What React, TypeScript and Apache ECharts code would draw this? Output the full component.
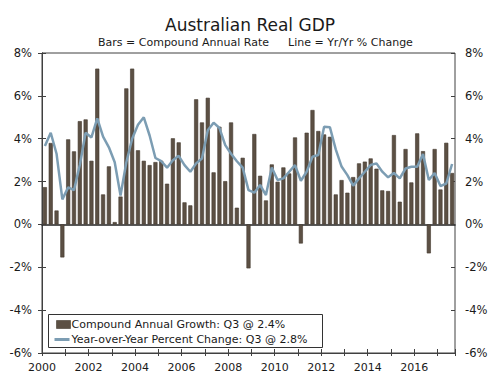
import React, { useEffect, useRef } from 'react';
import * as echarts from 'echarts';

const firstYear = 2000;
const quarterCount = 71;
const quarters: string[] = [];
for (let i = 0; i < quarterCount; i++) {
  quarters.push(`${firstYear + Math.floor(i / 4)} Q${(i % 4) + 1}`);
}

const compoundAnnual: number[] = [
  1.74, 3.8, 0.65, -1.54, 3.97, 3.41, 4.82, 4.9, 2.97, 7.27, 1.4, 2.71,
  0.11, 1.3, 6.35, 7.27, 3.46, 2.97, 2.77, 2.91, 2.97, 1.9, 4.02, 3.83,
  1.03, 0.89, 5.84, 4.76, 5.91, 2.43, 4.56, 2.02, 4.76, 0.78, 3.11, -2.05,
  4.22, 2.27, 1.12, 2.8, 1.99, 2.66, 2.38, 4.06, -0.89, 4.28, 5.34, 4.36,
  4.2, 4.09, 1.4, 2.07, 1.48, 2.21, 2.85, 2.93, 3.08, 2.6, 1.59, 1.56,
  4.17, 1.06, 3.52, 1.96, 4.25, 3.42, -1.35, 3.52, 1.63, 3.81, 2.4,
];

const yearOverYear: number[] = [
  3.66, 4.28, 3.3, 1.17, 1.73, 1.6, 2.77, 4.28, 4.06, 4.95, 4.1, 3.6,
  2.9, 1.35, 2.9, 4.0, 4.65, 5.0, 4.15, 3.1, 2.95, 2.65, 3.0, 3.2,
  2.77, 2.46, 2.85, 3.08, 4.4, 4.75, 4.5, 3.7, 3.3, 2.95, 2.65, 1.6,
  1.48, 1.84, 1.37, 2.66, 2.07, 2.15, 2.46, 2.77, 2.04, 2.46, 3.16, 3.24,
  4.56, 4.53, 3.5, 2.7, 2.3, 1.81, 2.15, 2.46, 2.77, 2.85, 2.46, 2.2,
  2.4, 2.15, 2.61, 2.69, 2.69, 3.28, 2.07, 2.4, 1.79, 1.91, 2.82,
];

const yearLabels: string[] = ['2000', '2002', '2004', '2006', '2008', '2010', '2012', '2014', '2016'];

const barName = 'Compound Annual Growth: Q3 @ 2.4%';
const lineName = 'Year-over-Year Percent Change: Q3 @ 2.8%';

const FONT = 'DejaVu Sans, Verdana, sans-serif';
const AXIS = '#404040';
const TEXT = '#1a1a1a';
const BAR = '#5c5044';
const LINE = '#7c9db3';

export default function App() {
  const ref = useRef<HTMLDivElement>(null);
  useEffect(() => {
    if (!ref.current) return;
    const chart = echarts.init(ref.current, undefined, { renderer: 'svg' });
    const yBase = { type: 'value', min: -6, max: 8, interval: 2, splitLine: { show: false } };
    chart.setOption({
      animation: false,
      backgroundColor: '#ffffff',
      textStyle: { fontFamily: FONT },
      title: [
        { text: 'Australian Real GDP', left: 'center', top: 11, textStyle: { fontSize: 17, fontWeight: 'normal', color: TEXT, fontFamily: FONT } },
        { text: 'Bars = Compound Annual Rate', left: 93, top: 32, textStyle: { fontSize: 11, fontWeight: 'normal', color: TEXT, fontFamily: FONT } },
        { text: 'Line = Yr/Yr % Change', left: 283, top: 32, textStyle: { fontSize: 11, fontWeight: 'normal', color: TEXT, fontFamily: FONT } },
      ],
      grid: { left: 42, right: 45, top: 53, bottom: 22, show: true, borderColor: AXIS, borderWidth: 1, backgroundColor: 'transparent' },
      xAxis: [
        {
          type: 'category',
          data: quarters,
          boundaryGap: true,
          axisLine: { show: true, onZero: true, lineStyle: { color: '#222', width: 1.5 } },
          axisTick: { show: false },
          axisLabel: { show: false },
          splitLine: { show: false },
        },
        {
          type: 'value',
          position: 'bottom',
          min: 0,
          max: quarterCount,
          interval: 4,
          axisLine: { show: true, onZero: false, lineStyle: { color: AXIS } },
          axisTick: { show: true, length: 3, lineStyle: { color: AXIS } },
          axisLabel: {
            show: true,
            margin: 9,
            fontSize: 11,
            color: TEXT,
            fontFamily: FONT,
            formatter: (v: number) => (v % 8 === 0 && v / 8 < yearLabels.length ? yearLabels[v / 8] : ''),
          },
          splitLine: { show: false },
        },
        {
          type: 'value',
          position: 'bottom',
          min: 0,
          max: quarterCount,
          interval: 4,
          axisLine: { show: false, onZero: false },
          axisTick: { show: true, inside: true, length: 4, lineStyle: { color: AXIS } },
          axisLabel: { show: false },
          splitLine: { show: false },
        },
      ],
      yAxis: [
        {
          ...yBase,
          position: 'left',
          axisLine: { show: true, lineStyle: { color: AXIS } },
          axisTick: { show: true, length: 4, lineStyle: { color: AXIS } },
          axisLabel: { formatter: '{value}%', fontSize: 11.5, color: TEXT, fontFamily: FONT, margin: 10 },
        },
        {
          ...yBase,
          position: 'right',
          axisLine: { show: true, lineStyle: { color: AXIS } },
          axisTick: { show: true, length: 4, lineStyle: { color: AXIS } },
          axisLabel: { formatter: '{value}%', fontSize: 11.5, color: TEXT, fontFamily: FONT, margin: 10 },
        },
        {
          ...yBase,
          position: 'left',
          axisLine: { show: false },
          axisTick: { show: true, inside: true, length: 4, lineStyle: { color: AXIS } },
          axisLabel: { show: false },
        },
        {
          ...yBase,
          position: 'right',
          axisLine: { show: false },
          axisTick: { show: true, inside: true, length: 4, lineStyle: { color: AXIS } },
          axisLabel: { show: false },
        },
      ],
      graphic: [
        {
          type: 'group',
          left: 48,
          top: 314,
          z: 100,
          children: [
            { type: 'rect', shape: { x: 0, y: 0, width: 274, height: 33 }, style: { fill: '#ffffff', stroke: '#333333', lineWidth: 1 } },
            { type: 'rect', shape: { x: 8, y: 6, width: 14, height: 8 }, style: { fill: BAR, stroke: '#43392f', lineWidth: 0.6 } },
            { type: 'text', x: 23, y: 10, style: { text: barName, fill: TEXT, font: `11px ${FONT}`, verticalAlign: 'middle', align: 'left' } },
            { type: 'line', shape: { x1: 6, y1: 25, x2: 21, y2: 25 }, style: { stroke: LINE, lineWidth: 3 } },
            { type: 'text', x: 23, y: 25, style: { text: lineName, fill: TEXT, font: `11px ${FONT}`, verticalAlign: 'middle', align: 'left' } },
          ],
        },
      ],
      series: [
        {
          name: barName,
          type: 'bar',
          xAxisIndex: 0,
          yAxisIndex: 0,
          data: compoundAnnual,
          barWidth: '70%',
          itemStyle: { color: BAR, borderColor: '#43392f', borderWidth: 0.6 },
        },
        {
          name: lineName,
          type: 'line',
          xAxisIndex: 0,
          yAxisIndex: 0,
          data: yearOverYear,
          symbol: 'none',
          lineStyle: { color: LINE, width: 2.5 },
          itemStyle: { color: LINE },
          z: 3,
        },
      ],
    });
    return () => chart.dispose();
  }, []);
  return <div ref={ref} style={{ width: 500, height: 375, position: 'absolute', left: 0, top: 0 }} />;
}
